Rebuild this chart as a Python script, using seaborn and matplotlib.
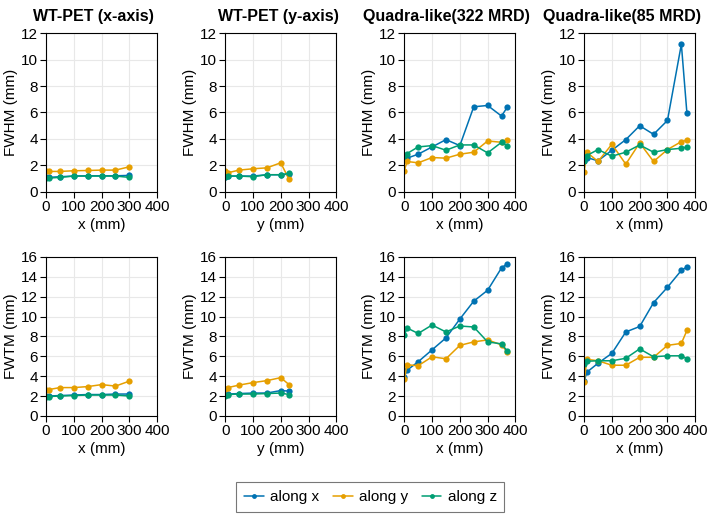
import pandas as pd
import matplotlib.pyplot as plt
import seaborn as sns
from matplotlib.lines import Line2D

# ── positions (mm) ─────────────────────────────────────
pos_wt_x = [0, 10, 50, 100, 150, 200, 250, 300]
pos_wt_y = [0, 10, 50, 100, 150, 200, 230]
pos_quadra = [0, 10, 50, 100, 150, 200, 250, 300, 350, 370]

# ── FWHM (mm) ──────────────────────────────────────────
fwhm_wtx_x = [1.1, 1.1, 1.15, 1.2, 1.22, 1.22, 1.22, 1.25]
fwhm_wtx_y = [1.55, 1.55, 1.55, 1.6, 1.62, 1.65, 1.65, 1.9]
fwhm_wtx_z = [1.05, 1.05, 1.1, 1.2, 1.2, 1.2, 1.2, 1.1]

fwhm_wty_x = [1.1, 1.2, 1.2, 1.2, 1.3, 1.3, 1.35]
fwhm_wty_y = [1.55, 1.45, 1.65, 1.75, 1.82, 2.2, 0.95]
fwhm_wty_z = [1.15, 1.2, 1.2, 1.15, 1.3, 1.3, 1.4]

fwhm_q322_x = [2.4, 2.55, 2.85, 3.4, 3.95, 3.5, 6.43, 6.53, 5.73, 6.38]
fwhm_q322_y = [1.6, 2.3, 2.2, 2.6, 2.55, 2.85, 3.0, 3.85, 3.75, 3.95]
fwhm_q322_z = [2.7, 2.9, 3.4, 3.5, 3.15, 3.55, 3.55, 2.95, 3.75, 3.5]

fwhm_q85_x = [2.3, 2.6, 2.35, 3.15, 3.95, 5.0, 4.35, 5.4, 11.15, 5.95]
fwhm_q85_y = [1.5, 3.0, 2.3, 3.6, 2.1, 3.7, 2.3, 3.2, 3.8, 3.9]
fwhm_q85_z = [2.3, 2.75, 3.2, 2.7, 3.0, 3.55, 3.0, 3.2, 3.3, 3.4]

# ── FWTM (mm) ──────────────────────────────────────────
fwtm_wtx_x = [2.0, 2.0, 2.05, 2.1, 2.15, 2.15, 2.2, 2.2]
fwtm_wtx_y = [2.65, 2.65, 2.85, 2.85, 2.95, 3.15, 3.0, 3.5]
fwtm_wtx_z = [1.95, 1.95, 2.0, 2.05, 2.1, 2.1, 2.1, 2.0]

fwtm_wty_x = [2.2, 2.2, 2.25, 2.3, 2.3, 2.55, 2.5]
fwtm_wty_y = [2.75, 2.85, 3.1, 3.35, 3.55, 3.85, 3.15]
fwtm_wty_z = [2.05, 2.15, 2.2, 2.2, 2.25, 2.3, 2.15]

fwtm_q322_x = [3.9, 4.6, 5.45, 6.65, 7.85, 9.75, 11.55, 12.65, 14.9, 15.3]
fwtm_q322_y = [3.7, 5.15, 5.05, 5.95, 5.75, 7.1, 7.45, 7.65, 7.15, 6.45]
fwtm_q322_z = [8.1, 8.85, 8.3, 9.15, 8.45, 9.05, 8.95, 7.45, 7.25, 6.55]

fwtm_q85_x = [3.5, 4.4, 5.3, 6.3, 8.45, 9.0, 11.4, 12.95, 14.65, 15.0]
fwtm_q85_y = [3.4, 5.7, 5.55, 5.1, 5.1, 5.9, 5.9, 7.1, 7.3, 8.6]
fwtm_q85_z = [5.2, 5.5, 5.55, 5.55, 5.8, 6.75, 5.95, 6.05, 6.05, 5.75]

titles = ['WT-PET (x-axis)', 'WT-PET (y-axis)', 'Quadra-like(322 MRD)', 'Quadra-like(85 MRD)']
xlabels = ['x (mm)', 'y (mm)', 'x (mm)', 'x (mm)']
directions = ['along x', 'along y', 'along z']
colors = ['#0072B2', '#E69F00', '#009E73']

panels = [
    [(pos_wt_x, fwhm_wtx_x, fwhm_wtx_y, fwhm_wtx_z),
     (pos_wt_y, fwhm_wty_x, fwhm_wty_y, fwhm_wty_z),
     (pos_quadra, fwhm_q322_x, fwhm_q322_y, fwhm_q322_z),
     (pos_quadra, fwhm_q85_x, fwhm_q85_y, fwhm_q85_z)],
    [(pos_wt_x, fwtm_wtx_x, fwtm_wtx_y, fwtm_wtx_z),
     (pos_wt_y, fwtm_wty_x, fwtm_wty_y, fwtm_wty_z),
     (pos_quadra, fwtm_q322_x, fwtm_q322_y, fwtm_q322_z),
     (pos_quadra, fwtm_q85_x, fwtm_q85_y, fwtm_q85_z)],
]
row_ylabel = ['FWHM (mm)', 'FWTM (mm)']
row_ylim = [12, 16]

sns.set_style('white')
plt.rcParams['font.family'] = ['Liberation Sans', 'DejaVu Sans']
plt.rcParams['font.size'] = 11
plt.rcParams['text.color'] = 'black'
plt.rcParams['axes.labelcolor'] = 'black'
plt.rcParams['xtick.color'] = 'black'
plt.rcParams['ytick.color'] = 'black'

fig = plt.figure(figsize=(7.08, 5.16), dpi=100)
lefts = [0.065, 0.318, 0.571, 0.825]
bottoms = [0.628, 0.194]
title_x = [0.43, 0.48, 0.38, 0.34]

for r in range(2):
    for c in range(4):
        ax = fig.add_axes([lefts[c], bottoms[r], 0.157, 0.308])
        pos, vx, vy, vz = panels[r][c]
        df = pd.DataFrame({
            'pos': pos * 3,
            'val': vx + vy + vz,
            'dir': [d for d in directions for _ in pos],
        })
        sns.lineplot(data=df, x='pos', y='val', hue='dir', palette=colors,
                     marker='o', markersize=4.5, markeredgewidth=0,
                     linewidth=1.1, ax=ax, legend=False, sort=False)
        ax.set_xlim(0, 400)
        ax.set_ylim(0, row_ylim[r])
        ax.set_xticks([0, 100, 200, 300, 400])
        ax.set_yticks(range(0, row_ylim[r] + 1, 2))
        ax.grid(True, color='#e8e8e8', linewidth=0.8)
        ax.set_axisbelow(True)
        for s in ax.spines.values():
            s.set_color('black')
            s.set_linewidth(0.8)
        ax.tick_params(axis='both', direction='out', length=4, width=0.8,
                       labelsize=11, bottom=True, left=True, pad=2)
        ax.set_ylabel(row_ylabel[r], fontsize=11, labelpad=2)
        ax.set_xlabel(xlabels[c], fontsize=11, labelpad=3)
        if r == 0:
            ax.set_title(titles[c], fontsize=11.5, fontweight='bold', pad=9,
                         x=title_x[c], ha='center')

handles = [Line2D([0], [0], color=col, marker='o', markersize=3.5,
                  markeredgewidth=0, linewidth=1.1) for col in colors]
leg = fig.legend(handles, directions, loc='center', bbox_to_anchor=(0.523, 0.037),
                 ncol=3, frameon=True, fancybox=False, fontsize=11,
                 handlelength=1.3, handletextpad=0.4, columnspacing=0.9,
                 borderpad=0.5, borderaxespad=0)
leg.get_frame().set_edgecolor('#555555')
leg.get_frame().set_linewidth(0.8)

fig.savefig('out.png', dpi=100)
